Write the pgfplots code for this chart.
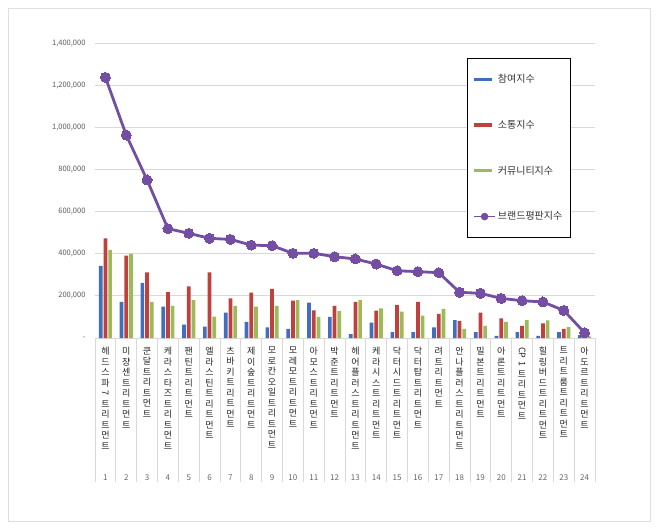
\documentclass[border=0pt]{standalone}
\usepackage{fontspec}
\setmainfont{Noto Sans CJK KR}
\usepackage{graphicx}
\usepackage{pgfplots}
\usepackage{pgfplotstable}
\pgfplotsset{compat=1.18}

\definecolor{cBlue}{RGB}{65,110,190}
\definecolor{cRed}{RGB}{192,64,62}
\definecolor{cGreen}{RGB}{155,187,89}
\definecolor{cPurple}{RGB}{115,78,162}

% idx, 참여지수, 소통지수, 커뮤니티지수, 브랜드평판지수
\pgfplotstableread{
idx part comm cmty brand
1  342000 473000 418000 1237000
2  172000 391000 399000 963000
3  262000 312000 172000 750000
4  149000 218000 152000 519000
5  63000  245000 180000 497000
6  54000  312000 101000 473000
7  120000 188000 153000 468000
8  77000  215000 149000 441000
9  51000  233000 152000 438000
10 43000  177000 180000 402000
11 168000 131000 100000 402000
12 100000 152000 128000 386000
13 19000  171000 180000 375000
14 73000  130000 141000 351000
15 28000  157000 125000 319000
16 28000  171000 106000 315000
17 51000  114000 138000 310000
18 85000  81000  43000  217000
19 28000  120000 57000  212000
20 10000  93000  77000  188000
21 28000  57000  85000  177000
22 10000  70000  84000  171000
23 28000  43000  52000  131000
24 14000  6000   8000   25000
}\brand

\newcommand\R[1]{\rotatebox[origin=c]{-90}{#1}}
\newcommand\lab[2]{\parbox[t][133pt][t]{20pt}{\centering\fontsize{9}{10.5}\selectfont\color{black!85}#1\par\vfill{\fontsize{8}{9}\selectfont\color{black!60}#2}}}

\begin{document}
\begin{tikzpicture}
\path[use as bounding box] (0,0) rectangle (660pt,-530pt);
\fill[white] (0,0) rectangle (660pt,-530pt);
\draw[gray!25, line width=0.8pt] (8pt,-8pt) rectangle (650pt,-521pt);
\begin{axis}[
  at={(95pt,-338pt)}, anchor=south west,
  scale only axis, width=500pt, height=295pt,
  xmin=0.5, xmax=24.5, ymin=0, ymax=1400000,
  enlargelimits=false,
  ybar,
  axis line style={draw=none},
  ymajorgrids, grid style={gray!30, line width=0.75pt},
  scaled y ticks=false,
  ytick={0,200000,...,1400000},
  yticklabels={-,{200,000},{400,000},{600,000},{800,000},{1,000,000},{1,200,000},{1,400,000}},
  yticklabel style={font=\fontsize{7.5}{9}\selectfont, text=black!65, anchor=east, xshift=-6pt},
  ytick style={draw=none},
  xtick pos=bottom,
  xtick={1,...,24},
  major tick length=0pt,
  xticklabel style={anchor=north, inner sep=0pt, yshift=-9pt},
  xticklabels={
    {\lab{헤\\드\\스\\파\\\R{7}\\트\\리\\트\\먼\\트}{1}},
    {\lab{미\\쟝\\센\\트\\리\\트\\먼\\트}{2}},
    {\lab{쿤\\달\\트\\리\\트\\먼\\트}{3}},
    {\lab{케\\라\\스\\타\\즈\\트\\리\\트\\먼\\트}{4}},
    {\lab{팬\\틴\\트\\리\\트\\먼\\트}{5}},
    {\lab{엘\\라\\스\\틴\\트\\리\\트\\먼\\트}{6}},
    {\lab{츠\\바\\키\\트\\리\\트\\먼\\트}{7}},
    {\lab{제\\이\\숲\\트\\리\\트\\먼\\트}{8}},
    {\lab{모\\로\\칸\\오\\일\\트\\리\\트\\먼\\트}{9}},
    {\lab{모\\레\\모\\트\\리\\트\\먼\\트}{10}},
    {\lab{아\\모\\스\\트\\리\\트\\먼\\트}{11}},
    {\lab{박\\준\\트\\리\\트\\먼\\트}{12}},
    {\lab{헤\\어\\플\\러\\스\\트\\리\\트\\먼\\트}{13}},
    {\lab{케\\라\\시\\스\\트\\리\\트\\먼\\트}{14}},
    {\lab{닥\\터\\시\\드\\트\\리\\트\\먼\\트}{15}},
    {\lab{닥\\터\\탑\\트\\리\\트\\먼\\트}{16}},
    {\lab{려\\트\\리\\트\\먼\\트}{17}},
    {\lab{안\\나\\플\\러\\스\\트\\리\\트\\먼\\트}{18}},
    {\lab{밀\\본\\트\\리\\트\\먼\\트}{19}},
    {\lab{아\\론\\트\\리\\트\\먼\\트}{20}},
    {\lab{\R{CP}\\\R{1}\\트\\리\\트\\먼\\트}{21}},
    {\lab{힐\\링\\버\\드\\트\\리\\트\\먼\\트}{22}},
    {\lab{트\\리\\트\\룸\\트\\리\\트\\먼\\트}{23}},
    {\lab{아\\도\\르\\트\\리\\트\\먼\\트}{24}}
  },
  extra x ticks={0.5,1.5,...,24.5},
  extra x tick labels={},
  extra x tick style={major tick length=144pt, tick align=outside,
    major tick style={draw=gray!30, line width=0.75pt}},
  legend style={at={(0.744,0.949)}, anchor=north west, draw=black, line width=0.6pt,
    fill=white, font=\fontsize{10}{12}\selectfont, text=black!80,
    row sep=32pt, inner xsep=6pt, inner ysep=14pt},
  legend cell align=left,
]
\addplot[fill=cBlue, draw=none, bar width=3.7pt, bar shift=-4.7pt,
  legend image code/.code={\fill[cBlue] (0pt,-1.6pt) rectangle (18pt,1.6pt);}]
  table[x=idx, y=part] {\brand};
\addplot[fill=cRed, draw=none, bar width=3.7pt, bar shift=0pt,
  legend image code/.code={\fill[cRed] (0pt,-1.6pt) rectangle (18pt,1.6pt);}]
  table[x=idx, y=comm] {\brand};
\addplot[fill=cGreen, draw=none, bar width=3.7pt, bar shift=4.7pt,
  legend image code/.code={\fill[cGreen] (0pt,-1.6pt) rectangle (18pt,1.6pt);}]
  table[x=idx, y=cmty] {\brand};
\addplot[sharp plot, color=cPurple, line width=2.8pt, mark=*, mark size=5pt,
  mark options={fill=cPurple, draw=cPurple, line width=0pt},
  legend image code/.code={\draw[cPurple, line width=1.6pt] (0pt,0pt)--(21pt,0pt);
    \fill[cPurple] (10.5pt,0pt) circle (2.3pt);}]
  table[x=idx, y=brand] {\brand};
\legend{참여지수, 소통지수, 커뮤니티지수, 브랜드평판지수}
\end{axis}
\end{tikzpicture}
\end{document}
